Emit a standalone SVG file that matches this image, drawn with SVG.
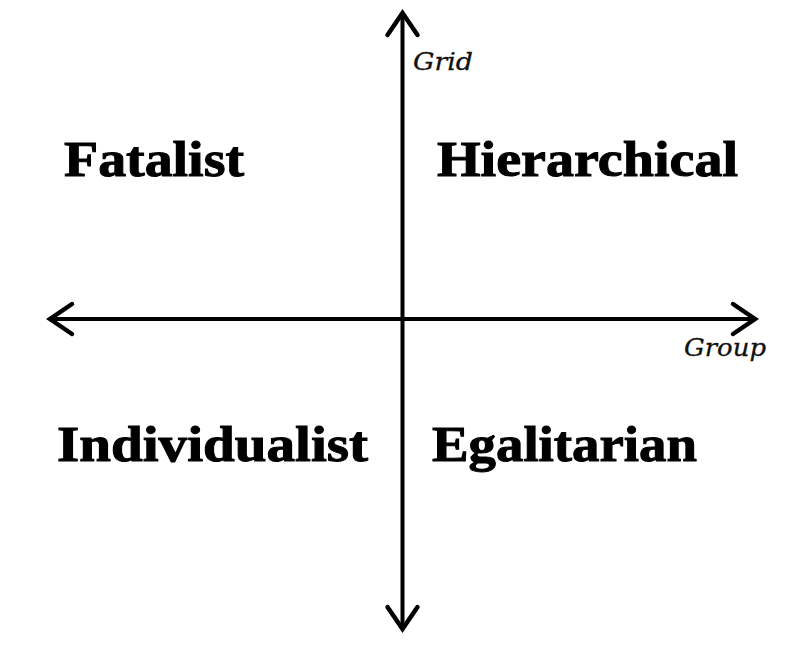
<svg xmlns="http://www.w3.org/2000/svg" width="800" height="653" viewBox="0 0 800 653">
<style>
.axis{stroke:#000;stroke-width:4;fill:none}
.head{stroke:#000;stroke-width:4.5;fill:none;stroke-linecap:round;stroke-linejoin:miter}
.quad{font-family:"Liberation Serif","DejaVu Serif",serif;font-weight:bold;font-size:50px;fill:#000;stroke:#000;stroke-width:1}
.ax{font-family:"DejaVu Serif","Liberation Serif",serif;font-style:italic;font-size:24px;fill:#111;stroke:#111;stroke-width:0.3}
</style>
<defs>
<marker id="chev" markerUnits="userSpaceOnUse" viewBox="-30 -20 40 40" refX="0" refY="0" markerWidth="40" markerHeight="40" orient="auto">
<path class="head" d="M -22 -15 L 0 0 L -22 15"/>
</marker>
</defs>
<g id="connectors">
<line class="axis" x1="402.5" y1="320" x2="402.5" y2="13" marker-end="url(#chev)"/>
<line class="axis" x1="402.5" y1="320" x2="402.5" y2="629" marker-end="url(#chev)"/>
<line class="axis" x1="402.5" y1="319" x2="50" y2="319" marker-end="url(#chev)"/>
<line class="axis" x1="402.5" y1="319" x2="755" y2="319" marker-end="url(#chev)"/>
</g>
<g id="grid-label"><text class="ax" x="413" y="70" textLength="60" lengthAdjust="spacingAndGlyphs">Grid</text></g>
<g id="group-label"><text class="ax" x="684" y="356" textLength="82" lengthAdjust="spacingAndGlyphs">Group</text></g>
<g id="fatalist"><text class="quad" x="64" y="176" textLength="180" lengthAdjust="spacingAndGlyphs">Fatalist</text></g>
<g id="hierarchical"><text class="quad" x="437" y="176" textLength="301" lengthAdjust="spacingAndGlyphs">Hierarchical</text></g>
<g id="individualist"><text class="quad" x="57" y="461" textLength="311" lengthAdjust="spacingAndGlyphs">Individualist</text></g>
<g id="egalitarian"><text class="quad" x="432" y="461" textLength="265" lengthAdjust="spacingAndGlyphs">Egalitarian</text></g>
</svg>
